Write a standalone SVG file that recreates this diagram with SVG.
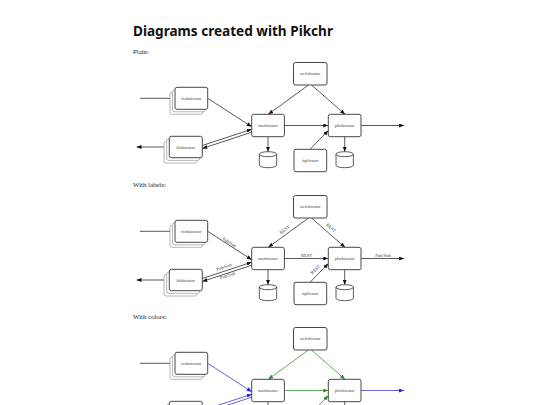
<svg xmlns="http://www.w3.org/2000/svg" width="540" height="405" viewBox="0 0 540 405">
<style>
.bg{fill:#fff}
.title{font-family:"Noto Sans","Open Sans",sans-serif;font-weight:bold;font-size:14.5px;fill:#111}
.cap{font-family:"Liberation Serif",serif;font-size:6.8px;fill:#222}
.box{fill:#fff;stroke:#333;stroke-width:0.9}
.sh{fill:#fff;stroke:#888;stroke-width:0.6}
.bt{font-family:"Liberation Serif",serif;font-size:4.6px;fill:#444;text-anchor:middle}
.lb{font-family:"Liberation Serif",serif;font-size:4.6px;fill:#333;text-anchor:middle}
.ln{fill:none;stroke:#111;stroke-width:0.7}
.blue{stroke:#2222cc}
.green{stroke:#228822}
.cyl{fill:#fff;stroke:#333;stroke-width:0.8}
</style>
<defs>
<marker id="ak" markerUnits="userSpaceOnUse" markerWidth="5" markerHeight="4" refX="5" refY="2" orient="auto"><path d="M0,0 L5,2 L0,4 Z" fill="#111"/></marker>
<marker id="ab" markerUnits="userSpaceOnUse" markerWidth="5" markerHeight="4" refX="5" refY="2" orient="auto"><path d="M0,0 L5,2 L0,4 Z" fill="#2222cc"/></marker>
<marker id="ag" markerUnits="userSpaceOnUse" markerWidth="5" markerHeight="4" refX="5" refY="2" orient="auto"><path d="M0,0 L5,2 L0,4 Z" fill="#228822"/></marker>
<g id="cylshape"><path class="cyl" d="M-8.7,-5.5 A8.7,2.5 0 0 1 8.7,-5.5 L8.7,5.5 A8.7,2.5 0 0 1 -8.7,5.5 Z M-8.7,-5.5 A8.7,2.5 0 0 0 8.7,-5.5"/></g>
</defs>
<rect class="bg" width="540" height="405"/>
<text class="title" x="133" y="36" textLength="200" lengthAdjust="spacingAndGlyphs">Diagrams created with Pikchr</text>
<text class="cap" x="133" y="53.5">Plain:</text>
<text class="cap" x="133" y="187">With labels:</text>
<text class="cap" x="133" y="319">With colors:</text>

<!-- Diagram 1 -->
<g id="diagram1">
<g id="d1-connectors">
<path class="ln" d="M140,98.3 L175,98.3" marker-end="url(#ak)"/>
<path class="ln" d="M207.7,98.3 L251.7,126.7" marker-end="url(#ak)"/>
<path class="ln" d="M202.3,145.5 L251.7,129.2" marker-end="url(#ak)"/>
<path class="ln" d="M251.7,132.2 L202.3,148.5" marker-end="url(#ak)"/>
<path class="ln" d="M169.3,147 L136.5,147" marker-end="url(#ak)"/>
<path class="ln" d="M308.5,85 L268.3,114.3" marker-end="url(#ak)"/>
<path class="ln" d="M311.5,85 L345,114.3" marker-end="url(#ak)"/>
<path class="ln" d="M284.4,125.5 L328.3,125.5" marker-end="url(#ak)"/>
<path class="ln" d="M310,149.3 L328.3,130.5" marker-end="url(#ak)"/>
<path class="ln" d="M361,125.5 L404,125.5" marker-end="url(#ak)"/>
<path class="ln" d="M268,136.7 L268,151.7" marker-end="url(#ak)"/>
<path class="ln" d="M344.7,136.7 L344.7,151.7" marker-end="url(#ak)"/>
</g>
<g id="d1-frob"><rect class="sh" x="170" y="92.3" width="32.7" height="22" rx="2"/><rect class="sh" x="172.5" y="89.8" width="32.7" height="22" rx="2"/><rect class="box" x="175" y="87.3" width="32.7" height="22" rx="2"/><text class="bt" x="191.3" y="99.8">frobnicator</text></g>
<g id="d1-blab"><rect class="sh" x="164" y="141.6" width="33" height="21.4" rx="2"/><rect class="sh" x="166.7" y="139" width="33" height="21.4" rx="2"/><rect class="box" x="169.3" y="136.3" width="33" height="21.4" rx="2"/><text class="bt" x="185.8" y="148.5">blabicator</text></g>
<g id="d1-web"><rect class="box" x="293.5" y="62.5" width="33.5" height="22.5" rx="2"/><text class="bt" x="310.2" y="75.2">webificator</text></g>
<g id="d1-marb"><rect class="box" x="251.7" y="114.3" width="32.7" height="22.4" rx="2"/><text class="bt" x="268" y="127">marbicator</text></g>
<g id="d1-plink"><rect class="box" x="328.3" y="114.3" width="32.7" height="22.4" rx="2"/><text class="bt" x="344.7" y="127">plinkicator</text></g>
<g id="d1-tip"><rect class="box" x="294" y="149.3" width="32.7" height="22.4" rx="2"/><text class="bt" x="310.3" y="162">tiplicator</text></g>
<g id="d1-db1"><use href="#cylshape" x="268" y="159.7"/></g>
<g id="d1-db2"><use href="#cylshape" x="344.7" y="159.7"/></g>
</g>

<!-- Diagram 2 -->
<g id="diagram2" transform="translate(0,133)">
<g id="d2-connectors">
<path class="ln" d="M140,98.3 L175,98.3" marker-end="url(#ak)"/>
<path class="ln" d="M207.7,98.3 L251.7,126.7" marker-end="url(#ak)"/>
<path class="ln" d="M202.3,145.5 L251.7,129.2" marker-end="url(#ak)"/>
<path class="ln" d="M251.7,132.2 L202.3,148.5" marker-end="url(#ak)"/>
<path class="ln" d="M169.3,147 L136.5,147" marker-end="url(#ak)"/>
<path class="ln" d="M308.5,85 L268.3,114.3" marker-end="url(#ak)"/>
<path class="ln" d="M311.5,85 L345,114.3" marker-end="url(#ak)"/>
<path class="ln" d="M284.4,125.5 L328.3,125.5" marker-end="url(#ak)"/>
<path class="ln" d="M310,149.3 L328.3,130.5" marker-end="url(#ak)"/>
<path class="ln" d="M361,125.5 L404,125.5" marker-end="url(#ak)"/>
<path class="ln" d="M268,136.7 L268,151.7" marker-end="url(#ak)"/>
<path class="ln" d="M344.7,136.7 L344.7,151.7" marker-end="url(#ak)"/>
<text class="lb" transform="translate(228.5,110.5) rotate(33)">Pub/Sub</text>
<text class="lb" transform="translate(224.5,135.5) rotate(-18)">Pub/Sub</text>
<text class="lb" transform="translate(228,144) rotate(-18)">Pub/Sub</text>
<text class="lb" transform="translate(285.5,98) rotate(-36)">REST</text>
<text class="lb" transform="translate(330,96) rotate(41)">REST</text>
<text class="lb" x="306.5" y="123.5">REST</text>
<text class="lb" transform="translate(316.5,137.5) rotate(-46)">REST</text>
<text class="lb" x="383" y="123.5">Pub/Sub</text>
</g>
<g id="d2-frob"><rect class="sh" x="170" y="92.3" width="32.7" height="22" rx="2"/><rect class="sh" x="172.5" y="89.8" width="32.7" height="22" rx="2"/><rect class="box" x="175" y="87.3" width="32.7" height="22" rx="2"/><text class="bt" x="191.3" y="99.8">frobnicator</text></g>
<g id="d2-blab"><rect class="sh" x="164" y="141.6" width="33" height="21.4" rx="2"/><rect class="sh" x="166.7" y="139" width="33" height="21.4" rx="2"/><rect class="box" x="169.3" y="136.3" width="33" height="21.4" rx="2"/><text class="bt" x="185.8" y="148.5">blabicator</text></g>
<g id="d2-web"><rect class="box" x="293.5" y="62.5" width="33.5" height="22.5" rx="2"/><text class="bt" x="310.2" y="75.2">webificator</text></g>
<g id="d2-marb"><rect class="box" x="251.7" y="114.3" width="32.7" height="22.4" rx="2"/><text class="bt" x="268" y="127">marbicator</text></g>
<g id="d2-plink"><rect class="box" x="328.3" y="114.3" width="32.7" height="22.4" rx="2"/><text class="bt" x="344.7" y="127">plinkicator</text></g>
<g id="d2-tip"><rect class="box" x="294" y="149.3" width="32.7" height="22.4" rx="2"/><text class="bt" x="310.3" y="162">tiplicator</text></g>
<g id="d2-db1"><use href="#cylshape" x="268" y="159.7"/></g>
<g id="d2-db2"><use href="#cylshape" x="344.7" y="159.7"/></g>
</g>

<!-- Diagram 3 -->
<g id="diagram3" transform="translate(0,265)">
<g id="d3-connectors">
<path class="ln" d="M140,98.3 L175,98.3" marker-end="url(#ak)"/>
<path class="ln blue" d="M207.7,98.3 L251.7,126.7" marker-end="url(#ab)"/>
<path class="ln blue" d="M202.3,145.5 L251.7,129.2" marker-end="url(#ab)"/>
<path class="ln blue" d="M251.7,132.2 L202.3,148.5" marker-end="url(#ab)"/>
<path class="ln green" d="M308.5,85 L268.3,114.3" marker-end="url(#ag)"/>
<path class="ln green" d="M311.5,85 L345,114.3" marker-end="url(#ag)"/>
<path class="ln green" d="M284.4,125.5 L328.3,125.5" marker-end="url(#ag)"/>
<path class="ln green" d="M310,149.3 L328.3,130.5" marker-end="url(#ag)"/>
<path class="ln blue" d="M361,125.5 L404,125.5" marker-end="url(#ab)"/>
<path class="ln" d="M268,136.7 L268,151.7" marker-end="url(#ak)"/>
<path class="ln" d="M344.7,136.7 L344.7,151.7" marker-end="url(#ak)"/>
</g>
<g id="d3-frob"><rect class="sh" x="170" y="92.3" width="32.7" height="22" rx="2"/><rect class="sh" x="172.5" y="89.8" width="32.7" height="22" rx="2"/><rect class="box" x="175" y="87.3" width="32.7" height="22" rx="2"/><text class="bt" x="191.3" y="99.8">frobnicator</text></g>
<g id="d3-blab"><rect class="sh" x="164" y="141.6" width="33" height="21.4" rx="2"/><rect class="sh" x="166.7" y="139" width="33" height="21.4" rx="2"/><rect class="box" x="169.3" y="136.3" width="33" height="21.4" rx="2"/></g>
<g id="d3-web"><rect class="box" x="293.5" y="62.5" width="33.5" height="22.5" rx="2"/><text class="bt" x="310.2" y="75.2">webificator</text></g>
<g id="d3-marb"><rect class="box" x="251.7" y="114.3" width="32.7" height="22.4" rx="2"/><text class="bt" x="268" y="127">marbicator</text></g>
<g id="d3-plink"><rect class="box" x="328.3" y="114.3" width="32.7" height="22.4" rx="2"/><text class="bt" x="344.7" y="127">plinkicator</text></g>
</g>
</svg>
